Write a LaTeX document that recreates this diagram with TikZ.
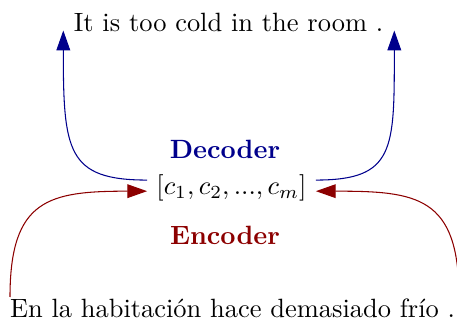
\documentclass[tikz,border=0pt]{standalone}
\usetikzlibrary{arrows.meta}
\begin{document}
\begin{tikzpicture}[x=0.3782pt, y=-0.3782pt,
    sent/.style={anchor=base},
    lbl/.style={anchor=base, font=\bfseries},
    decarrow/.style={-{Triangle[length=7.5pt,width=5.2pt]}, color=blue!55!black},
    encarrow/.style={-{Triangle[length=7.5pt,width=5.2pt]}, color=red!55!black}]

    \useasboundingbox (0,0) rectangle (457,323);

    \node (ctx) at (231.5,188) {$[c_1, c_2, ..., c_m]$};
    \node (tgt) [sent] at (228.5,31.7) {It is too cold in the room .};
    \node (src) [sent] at (232.5,318) {En la habitación hace demasiado frío .};
    \node (dec) [lbl, text=blue!55!black] at (225,159) {Decoder};
    \node (enc) [lbl, text=red!55!black] at (225,245) {Encoder};

    % free ends of the arrows
    \coordinate (tl) at (63.3,30.5);
    \coordinate (tr) at (394.3,30.5);
    \coordinate (ls) at (10,297);
    \coordinate (rs) at (459,297);

    \draw [decarrow] ([yshift=3pt]ctx.west) to[out=180, in=-90, out looseness=1.2, in looseness=1.8] (tl);
    \draw [decarrow] ([yshift=3pt]ctx.east) to[out=0, in=-90, out looseness=1.2, in looseness=1.8] (tr);
    \draw [encarrow] (ls) to[out=90, in=180, looseness=1.45] ([yshift=-1.2pt]ctx.west);
    \draw [encarrow] (rs) to[out=90, in=0, looseness=1.45] ([yshift=-1.2pt]ctx.east);
\end{tikzpicture}
\end{document}
